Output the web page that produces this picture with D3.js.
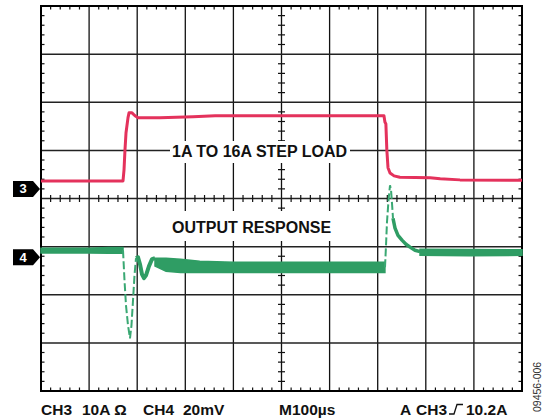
<!DOCTYPE html>
<html><head><meta charset="utf-8">
<script src="https://cdn.jsdelivr.net/npm/d3@7"></script>
<style>html,body{margin:0;padding:0;background:#fff}svg{display:block}</style>
</head><body>
<svg id="c" width="545" height="420"></svg>
<script>
// ---- data ----
const xDivisions = 10, yDivisions = 8, timePerDivUs = 100;
const ch3AmpsPerDiv = 10, ch4MvPerDiv = 20;
const ch3OffsetDiv = 0.2, ch4OffsetDiv = -1.22;
// CH3: load current (A) vs time (µs)
const ch3Time = [0,170.5,172.6,174.6,176.7,180.9,183,189.2,195.4,201.7,247,316,362,455,713,715,717,719,721.4,725.6,734,746,809,830,871,1000];
const ch3Amps = [1.66,1.66,3.95,8.1,11.6,14.8,15.8,15.8,15.2,14.8,14.8,15.0,15.2,15.2,15.2,13.9,13.5,8.1,4.4,3.3,2.7,2.4,2.29,2.08,1.87,1.77];
// CH4: output voltage deviation (mV) — noise bands (upper/lower envelope)
const ch4PreTime = [0,100,140,170.5];
const ch4PreUpper = [3.7,3.7,4.0,4.0];
const ch4PreLower = [1.7,1.7,1.6,1.6];
const ch4MidTime = [237,260,290,330,400,715];
const ch4MidUpper = [-0.4,-0.4,-0.8,-1.7,-2.1,-2.1];
const ch4MidLower = [-3.7,-5.8,-6.4,-6.4,-6.4,-6.4];
const ch4PostTime = [788,890,1000];
const ch4PostUpper = [3.3,3.2,3.1];
const ch4PostLower = [0.8,0.6,0.8];
// CH4 fast transitions (dashed) and ringing
const ch4DipTime = [170.5,173.6,176.7,180.9,185.0,188.1,191.3,194.4,197.5];
const ch4DipMv = [2.9,-9.6,-20.0,-28.3,-33.7,-28.3,-17.9,-7.5,-0.4];
const ch4RingTime = [197.5,201.7,205.8,210,214.1,218.3,224.5,230.8,237];
const ch4RingMv = [-0.4,0,-2.9,-7.1,-8.7,-7.5,-3.7,-0.8,-0.4];
const ch4SpikeTime = [715.2,717.3,719.3,722.5,725.6,727.7,729.7,731.8];
const ch4SpikeMv = [-4.2,5.0,14.6,23.7,29.9,27.9,22.5,16.2];
const ch4SettleTime = [731.8,736,742.2,750.5,758.8,767.2,777.5,788];
const ch4SettleMv = [16.2,12.1,9.1,7.1,5.4,4.2,2.9,2.3];
const stepLabel = "1A TO 16A STEP LOAD";
const responseLabel = "OUTPUT RESPONSE";
const footerLabels = [["CH3",41],["10A Ω",82],["CH4",143],["20mV",183],["M100µs",279],["A",400],["CH3",416],["10.2A",466]];
const figureCode = "09456-006";

// ---- layout ----
const L = 41, R = 522, T = 6, B = 391;
const RED = "#e4325c", GREEN = "#2f9d64";
const svg = d3.select("#c");
svg.append("rect").attr("width",545).attr("height",420).attr("fill","#fff");

const x = d3.scaleLinear().domain([0, xDivisions*timePerDivUs]).range([L, R]);
const yDiv = d3.scaleLinear().domain([-yDivisions/2, yDivisions/2]).range([B, T]);
const y3 = a => yDiv(a/ch3AmpsPerDiv + ch3OffsetDiv);
const y4 = v => yDiv(v/ch4MvPerDiv + ch4OffsetDiv);

// grid
const g = svg.append("g");
const xMaj = d3.range(1, xDivisions).map(i => i*timePerDivUs);
const yMaj = d3.range(-yDivisions/2+1, yDivisions/2);
g.selectAll(".vx").data(xMaj).enter().append("line")
  .attr("x1",d=>x(d)).attr("x2",d=>x(d)).attr("y1",T).attr("y2",B)
  .attr("stroke","#111").attr("stroke-width",1.3);
g.selectAll(".hy").data(yMaj).enter().append("line")
  .attr("y1",d=>yDiv(d)).attr("y2",d=>yDiv(d)).attr("x1",L).attr("x2",R)
  .attr("stroke","#222").attr("stroke-width",1.5);
// minor ticks
const xMin = d3.range(0, xDivisions*5+1).map(i => i*timePerDivUs/5).filter((d,i)=>i%5!==0);
const yMin = d3.range(0, yDivisions*5+1).map(i => -yDivisions/2 + i/5).filter((d,i)=>i%5!==0);
const tk = 3.5;
[[T, 1],[B,-1]].forEach(([yy,s])=>{
  g.selectAll(null).data(xMin).enter().append("line")
   .attr("x1",d=>x(d)).attr("x2",d=>x(d)).attr("y1",yy).attr("y2",yy+s*tk)
   .attr("stroke","#111").attr("stroke-width",1.2);
});
g.selectAll(null).data(xMin).enter().append("line")
  .attr("x1",d=>x(d)).attr("x2",d=>x(d)).attr("y1",yDiv(0)-tk).attr("y2",yDiv(0)+tk)
  .attr("stroke","#111").attr("stroke-width",1.2);
[[L,1],[R,-1]].forEach(([xx,s])=>{
  g.selectAll(null).data(yMin).enter().append("line")
   .attr("y1",d=>yDiv(d)).attr("y2",d=>yDiv(d)).attr("x1",xx).attr("x2",xx+s*tk)
   .attr("stroke","#111").attr("stroke-width",1.2);
});
g.selectAll(null).data(yMin).enter().append("line")
  .attr("y1",d=>yDiv(d)).attr("y2",d=>yDiv(d)).attr("x1",x(500)-tk).attr("x2",x(500)+tk)
  .attr("stroke","#111").attr("stroke-width",1.2);
// border
g.append("rect").attr("x",L).attr("y",T).attr("width",R-L).attr("height",B-T)
  .attr("fill","none").attr("stroke","#000").attr("stroke-width",2);

// label boxes (white)
svg.append("rect").attr("x",170).attr("y",141).attr("width",180).attr("height",22).attr("fill","#fff");
svg.append("rect").attr("x",170).attr("y",211).attr("width",162).attr("height",30).attr("fill","#fff");

// traces
const line = d3.line().x(d=>x(d[0])).y(d=>d[1]);
const zip = (t,v,f) => t.map((d,i)=>[d,f(v[i])]);
const area = d3.area().x(d=>x(d[0])).y0(d=>y4(d[1])).y1(d=>y4(d[2]));
function band(t,u,l){
  svg.append("path").attr("d",area(t.map((d,i)=>[d,l[i],u[i]])))
    .attr("fill",GREEN).attr("stroke",GREEN).attr("stroke-width",1.5);
}
band(ch4PreTime,ch4PreUpper,ch4PreLower);
band(ch4MidTime,ch4MidUpper,ch4MidLower);
band(ch4PostTime,ch4PostUpper,ch4PostLower);
svg.append("path").attr("d",line(zip(ch4DipTime,ch4DipMv,y4)))
  .attr("fill","none").attr("stroke","#3aa873").attr("stroke-width",2).attr("stroke-dasharray","8,3");
svg.append("path").attr("d",line(zip(ch4SpikeTime,ch4SpikeMv,y4)))
  .attr("fill","none").attr("stroke","#3aa873").attr("stroke-width",2).attr("stroke-dasharray","8,3");
svg.append("path").attr("d",line(zip(ch4RingTime,ch4RingMv,y4)))
  .attr("fill","none").attr("stroke",GREEN).attr("stroke-width",4).attr("stroke-linejoin","round");
svg.append("path").attr("d",line(zip(ch4SettleTime,ch4SettleMv,y4)))
  .attr("fill","none").attr("stroke",GREEN).attr("stroke-width",3.5).attr("stroke-linejoin","round");
svg.append("path").attr("d",line(zip(ch3Time,ch3Amps,y3)))
  .attr("fill","none").attr("stroke",RED).attr("stroke-width",3).attr("stroke-linejoin","round");

// text labels
const font = "'Liberation Sans', Arial, sans-serif";
svg.append("text").attr("x",172).attr("y",157).text(stepLabel)
  .attr("font-family",font).attr("font-weight","bold").attr("font-size",16).attr("fill","#111");
svg.append("text").attr("x",172).attr("y",233).text(responseLabel)
  .attr("font-family",font).attr("font-weight","bold").attr("font-size",16).attr("fill","#111");
footerLabels.forEach(([s,xx])=>{
  svg.append("text").attr("x",xx).attr("y",414.5).text(s)
    .attr("font-family",font).attr("font-weight","bold").attr("font-size",15.5).attr("fill","#111");
});
svg.append("path").attr("d","M449,414 H454 L457,404.5 H463")
  .attr("fill","none").attr("stroke","#111").attr("stroke-width",1.3);
svg.append("text").attr("transform","translate(541,412) rotate(-90)").text(figureCode)
  .attr("font-family",font).attr("font-size",10.5).attr("fill","#333");

// channel markers
[[3, y3(0)],[4, y4(0)]].forEach(([n,cy])=>{
  svg.append("path").attr("d",`M13,${cy-8} H33 L40,${cy} L33,${cy+8} H13 Z`).attr("fill","#000");
  svg.append("text").attr("x",23).attr("y",cy+4.5).attr("text-anchor","middle").text(n)
    .attr("font-family",font).attr("font-weight","bold").attr("font-size",13).attr("fill","#fff");
});
</script>
</body></html>
